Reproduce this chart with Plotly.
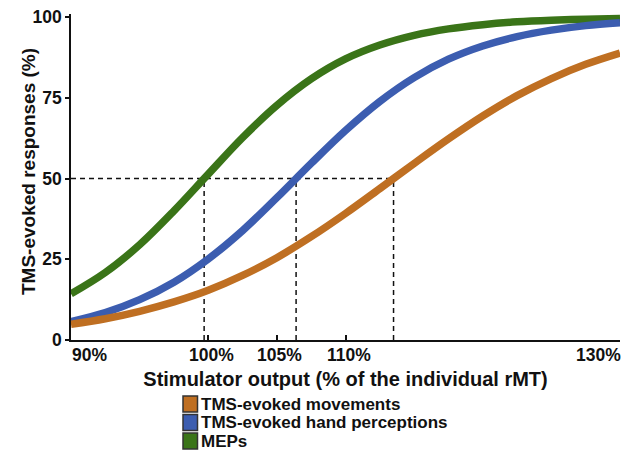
import plotly.graph_objects as go

# Stimulator output (% of the individual rMT)
stim = [90, 92.5, 95, 97.5, 100, 102.5, 105, 107.5, 110, 112.5,
        115, 117.5, 120, 122.5, 125, 127.5, 130]

# Response curves (% of trials with a response)
movements = [4.9, 6.6, 8.9, 11.8, 15.4, 20.0, 25.5, 32.0, 39.2, 46.9,
             54.7, 62.3, 69.4, 75.7, 81.0, 85.4, 88.9]
hand_perceptions = [5.7, 8.5, 12.5, 17.9, 25.1, 33.9, 44.1, 54.7, 64.9, 73.9,
                    81.3, 87.0, 91.1, 94.0, 96.0, 97.4, 98.3]
meps = [14.3, 20.9, 29.5, 40.0, 51.4, 62.7, 72.7, 80.9, 87.1, 91.4,
        94.4, 96.4, 97.7, 98.6, 99.1, 99.4, 99.6]

# Stimulation intensity at which each curve reaches 50 %
half_level = 50
half_points = [99.7, 106.4, 113.5]

series_names = ["TMS-evoked movements", "TMS-evoked hand perceptions", "MEPs"]
series_values = [movements, hand_perceptions, meps]
series_colors = ["#bf6f22", "#3c5db0", "#3a7418"]

x_tick_vals = [90, 100, 105, 110, 130]
x_tick_text = ["90%", "100%", "105%", "110%", "130%"]
y_tick_vals = [0, 25, 50, 75, 100]

FONT = "Arial, 'Liberation Sans', sans-serif"
INK = "#111"

# figure geometry (pixels)
W, H = 635, 452
ML, MR, MT, MB = 71, 15, 14, 112
PW, PH = W - ML - MR, H - MT - MB


def px_to_paper(px, py):
    return (px - ML) / PW, (H - MB - py) / PH


fig = go.Figure()

# dashed guides at the 50 % level
dash_line = dict(color=INK, width=1.5, dash="5px,4px")
fig.add_trace(go.Scatter(
    x=[stim[0], max(half_points)], y=[half_level, half_level],
    mode="lines", line=dash_line, showlegend=False, hoverinfo="skip"))
for xv in half_points:
    fig.add_trace(go.Scatter(
        x=[xv, xv], y=[0, half_level],
        mode="lines", line=dash_line, showlegend=False, hoverinfo="skip"))

# sigmoid curves
for name, vals, col in reversed(list(zip(series_names, series_values, series_colors))):
    fig.add_trace(go.Scatter(
        x=stim, y=vals, mode="lines", name=name,
        line=dict(color=col, width=7.5, shape="spline", smoothing=1),
        showlegend=False))

# x tick labels: the edge labels are aligned with the axis ends
anchors = ["left", "center", "center", "center", "right"]
shifts = [-1, 3, 3, 3, 3]
for xv, txt, anc, sh in zip(x_tick_vals, x_tick_text, anchors, shifts):
    fig.add_annotation(
        x=xv, y=0, xref="x", yref="paper", text=txt, showarrow=False,
        xanchor=anc, yanchor="top", yshift=-3, xshift=sh,
        font=dict(family=FONT, size=17.5, color=INK, weight="bold"))

# y-axis title, rotated, left of the tick labels
yt_x, yt_y = px_to_paper(28, 172)
fig.add_annotation(
    x=yt_x, y=yt_y, xref="paper", yref="paper", text="TMS-evoked responses (%)",
    showarrow=False, textangle=-90, xanchor="center", yanchor="middle",
    font=dict(family=FONT, size=19, color=INK, weight="bold"))

# legend block below the axis: swatch + label per series
leg_left, leg_top, row_step = 183, 396, 18.5
sw_w, sw_h = 14.5, 16
for i, (name, col) in enumerate(zip(series_names, series_colors)):
    top = leg_top + i * row_step
    x0, y1 = px_to_paper(leg_left, top)
    x1, y0 = px_to_paper(leg_left + sw_w, top + sw_h)
    fig.add_shape(type="rect", xref="paper", yref="paper",
                  x0=x0, x1=x1, y0=y0, y1=y1,
                  fillcolor=col, line=dict(color="#333", width=1.5))
    tx, ty = px_to_paper(leg_left + sw_w + 2, top + sw_h / 2)
    fig.add_annotation(
        x=tx, y=ty, xref="paper", yref="paper", text=name, showarrow=False,
        xanchor="left", yanchor="middle", borderpad=0,
        font=dict(family=FONT, size=17, color=INK, weight="bold"))

fig.update_layout(
    width=W, height=H,
    margin=dict(l=ML, r=MR, t=MT, b=MB, autoexpand=False),
    paper_bgcolor="white", plot_bgcolor="white",
    font=dict(family=FONT, color=INK, weight="bold"),
    showlegend=False,
)

fig.update_xaxes(
    range=[90, 130], tickvals=x_tick_vals, showticklabels=False,
    ticks="inside", ticklen=5, tickwidth=1.5, tickcolor=INK,
    showline=True, linecolor=INK, linewidth=1.5,
    showgrid=False, zeroline=False,
    title=dict(text="Stimulator output (% of the individual rMT)", standoff=31,
               font=dict(family=FONT, size=20, color=INK, weight="bold")))

fig.update_yaxes(
    range=[0, 101], tickvals=y_tick_vals,
    ticks="outside", ticklen=4, tickwidth=1.5, tickcolor=INK,
    tickfont=dict(family=FONT, size=17.5, color=INK, weight="bold"),
    showline=True, linecolor=INK, linewidth=1.5,
    showgrid=False, zeroline=False)

fig.write_html("out.html")
